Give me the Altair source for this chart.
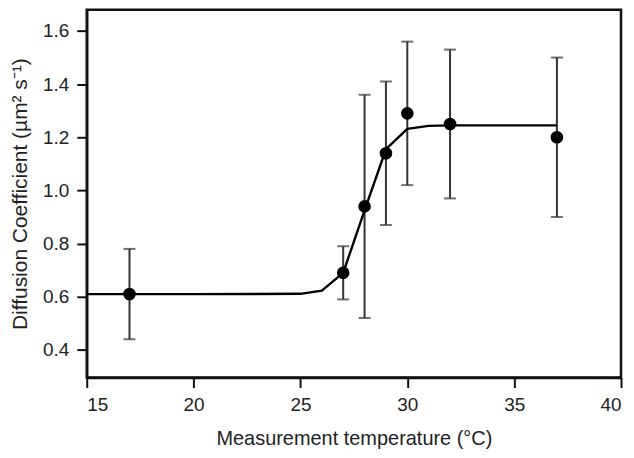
import altair as alt
import pandas as pd

# measured points
temp = [17, 27, 28, 29, 30, 32, 37]
diff = [0.61, 0.69, 0.94, 1.14, 1.29, 1.25, 1.20]
err_lo = [0.44, 0.59, 0.52, 0.87, 1.02, 0.97, 0.90]
err_hi = [0.78, 0.79, 1.36, 1.41, 1.56, 1.53, 1.50]

# fitted curve
fit_x = [15, 20, 25, 26, 27, 28, 29, 30, 31, 32, 35, 37]
fit_y = [0.61, 0.61, 0.611, 0.623, 0.69, 0.925, 1.155, 1.232, 1.243, 1.245, 1.245, 1.245]

x_ticks = [15, 20, 25, 30, 35, 40]
y_ticks = [0.4, 0.6, 0.8, 1.0, 1.2, 1.4, 1.6]

pts = pd.DataFrame({"t": temp, "d": diff, "lo": err_lo, "hi": err_hi})
fit = pd.DataFrame({"t": fit_x, "d": fit_y})

FONT = "Liberation Sans"

xs = alt.Scale(domain=[15, 40], nice=False, zero=False)
ys = alt.Scale(domain=[0.296, 1.68], nice=False, zero=False)

common = dict(grid=False, tickSize=10, tickWidth=2, tickColor="#111",
              domain=True, domainColor="#111", domainWidth=2.5,
              labelFontSize=19, labelFont=FONT, titleFont=FONT,
              labelColor="#222", titleColor="#222", titleFontWeight="normal")

xax = alt.Axis(values=x_ticks, title="Measurement temperature (°C)",
               titleFontSize=20, labelPadding=8, titlePadding=14, format="d", **common)
yax = alt.Axis(values=y_ticks, title="Diffusion Coefficient  (µm² s⁻¹)",
               titleFontSize=21, labelPadding=8, titlePadding=12, format=".1f", **common)

base = alt.Chart(pts)

rules = base.mark_rule(color="#333", strokeWidth=2).encode(
    x=alt.X("t:Q", scale=xs, axis=xax),
    y=alt.Y("lo:Q", scale=ys, axis=yax),
    y2="hi:Q",
)
cap_lo = base.mark_tick(color="#333", orient="horizontal", size=12, thickness=2).encode(
    x=alt.X("t:Q", scale=xs), y=alt.Y("lo:Q", scale=ys))
cap_hi = base.mark_tick(color="#333", orient="horizontal", size=12, thickness=2).encode(
    x=alt.X("t:Q", scale=xs), y=alt.Y("hi:Q", scale=ys))

line = alt.Chart(fit).mark_line(color="black", strokeWidth=2.4).encode(
    x=alt.X("t:Q", scale=xs), y=alt.Y("d:Q", scale=ys))

dots = base.mark_circle(color="black", size=160, opacity=1).encode(
    x=alt.X("t:Q", scale=xs), y=alt.Y("d:Q", scale=ys))

chart = alt.layer(rules, cap_lo, cap_hi, line, dots).properties(
    width=536, height=369,
    background="white",
    autosize=alt.AutoSizeParams(type="none"),
    padding={"left": 79, "top": 1, "right": 5, "bottom": 80},
).configure_view(stroke="#111", strokeWidth=2.5)

chart.save("out.html", embed_options={"renderer": "svg", "actions": False})
